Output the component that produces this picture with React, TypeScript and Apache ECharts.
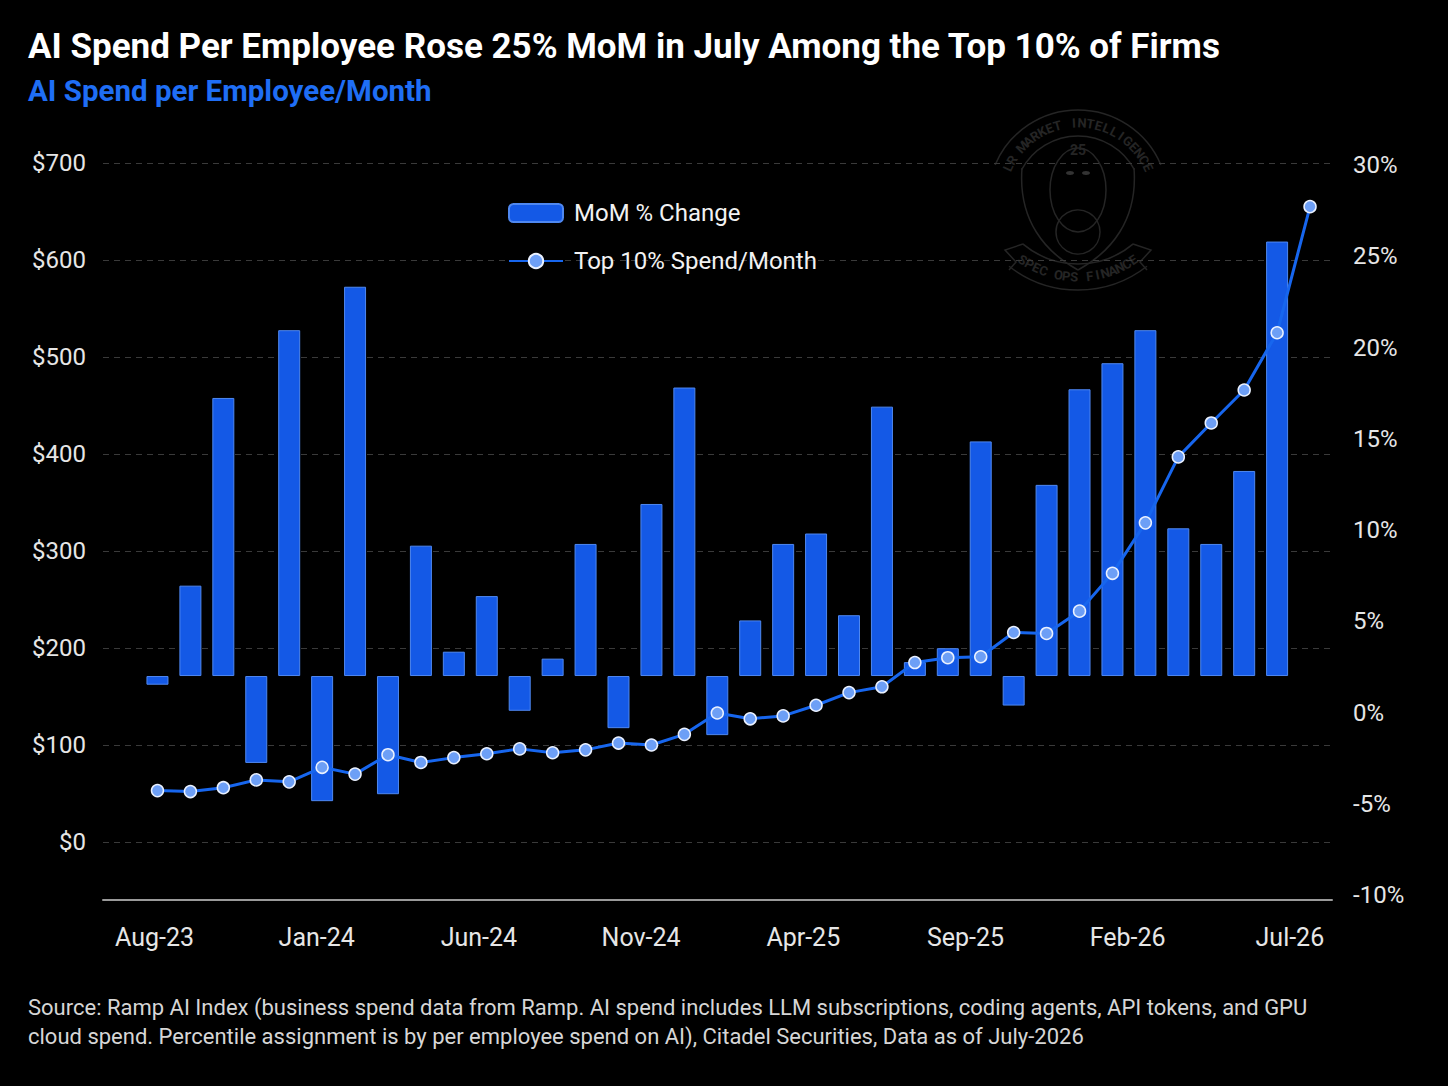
import React, { useEffect, useRef } from "react";
import * as echarts from "echarts";

const months = [
  "Aug-23", "Sep-23", "Oct-23", "Nov-23", "Dec-23", "Jan-24", "Feb-24", "Mar-24", "Apr-24", "May-24", "Jun-24", "Jul-24",
  "Aug-24", "Sep-24", "Oct-24", "Nov-24", "Dec-24", "Jan-25", "Feb-25", "Mar-25", "Apr-25", "May-25", "Jun-25", "Jul-25",
  "Aug-25", "Sep-25", "Oct-25", "Nov-25", "Dec-25", "Jan-26", "Feb-26", "Mar-26", "Apr-26", "May-26", "Jun-26", "Jul-26",
];

// MoM % change (bars stop one month before the line)
const momChange = [
  -0.5, 5.2, 16.0, -5.0, 19.9, -7.2, 22.4, -6.8, 7.5, 1.4, 4.6, -2.0,
  1.0, 7.6, -3.0, 9.9, 16.6, -3.4, 3.2, 7.6, 8.2, 3.5, 15.5, 0.8,
  1.6, 13.5, -1.7, 11.0, 16.5, 18.0, 19.9, 8.5, 7.6, 11.8, 25.0, null,
];

// top 10% spend per employee per month, $
const topSpend = [
  53, 52, 56, 64, 62, 77, 70, 90, 82, 87, 91, 96,
  92, 95, 102, 100, 111, 133, 127, 130, 141, 154, 160, 185,
  190, 191, 216, 215, 238, 277, 329, 397, 432, 466, 525, 655,
];

const dollarTicks = { min: 0, max: 700, interval: 100 };
const pctTicks = { min: -10, max: 30, interval: 5 };

const FONT = "Roboto";
const wmColor = "#252525";

const deg = (d: number) => (d * Math.PI) / 180;

// letters placed round an arc for the faint badge
function arcText(text: string, cx: number, cy: number, r: number, a0: number, a1: number, top: boolean, size: number) {
  const n = text.length;
  return text.split("").map((ch, i) => {
    const a = deg(a0 + ((a1 - a0) * i) / (n - 1));
    return {
      type: "text",
      x: cx + r * Math.cos(a),
      y: cy - r * Math.sin(a),
      rotation: top ? a - Math.PI / 2 : a + Math.PI / 2,
      style: {
        text: ch,
        fill: wmColor,
        font: `bold ${size}px ${FONT}`,
        align: "center",
        verticalAlign: "middle",
      },
    };
  });
}

function badge() {
  const line = { stroke: wmColor, lineWidth: 1.5, fill: null };
  return {
    type: "group",
    z: -1,
    children: [
      { type: "arc", shape: { cx: 1078, cy: 200, r: 90, startAngle: deg(-157), endAngle: deg(-23) }, style: line },
      { type: "arc", shape: { cx: 1078, cy: 200, r: 64, startAngle: deg(-152), endAngle: deg(-28) }, style: line },
      { type: "bezierCurve", shape: { x1: 1022, y1: 168, cpx1: 1018, cpy1: 220, cpx2: 1045, cpy2: 252, x2: 1078, y2: 270 }, style: line },
      { type: "bezierCurve", shape: { x1: 1134, y1: 168, cpx1: 1138, cpy1: 220, cpx2: 1111, cpy2: 252, x2: 1078, y2: 270 }, style: line },
      { type: "arc", shape: { cx: 1078, cy: 178, r: 86, startAngle: deg(50), endAngle: deg(130) }, style: line },
      { type: "arc", shape: { cx: 1078, cy: 178, r: 112, startAngle: deg(52), endAngle: deg(128) }, style: line },
      { type: "polyline", shape: { points: [[1023, 244], [1005, 250], [1016, 262], [1009, 270]] }, style: line },
      { type: "polyline", shape: { points: [[1133, 244], [1151, 250], [1140, 262], [1147, 270]] }, style: line },
      { type: "ellipse", shape: { cx: 1078, cy: 190, rx: 28, ry: 42 }, style: line },
      { type: "circle", shape: { cx: 1078, cy: 232, r: 22 }, style: line },
      { type: "ellipse", shape: { cx: 1070, cy: 173, rx: 4, ry: 2 }, style: { fill: "#333333" } },
      { type: "ellipse", shape: { cx: 1086, cy: 173, rx: 4, ry: 2 }, style: { fill: "#333333" } },
      {
        type: "text",
        x: 1078,
        y: 150,
        style: { text: "25", fill: wmColor, font: `bold 14px ${FONT}`, align: "center", verticalAlign: "middle" },
      },
      ...arcText("LR MARKET INTELLIGENCE", 1078, 200, 77, 155, 25, true, 13),
      ...arcText("SPEC OPS FINANCE", 1078, 178, 99, -124, -56, false, 13),
    ],
  };
}

const SpendChart = () => {
  const chartRef = useRef<HTMLDivElement>(null);

  useEffect(() => {
    document.body.style.margin = "0";
    document.body.style.background = "#000";
    const chart = echarts.init(chartRef.current as HTMLDivElement, null, { renderer: "svg" });

    const labelColor = "#e6e6e6";

    const option = {
      animation: false,
      backgroundColor: "#000",
      textStyle: { fontFamily: FONT },
      title: [
        {
          text: "AI Spend Per Employee Rose 25% MoM in July Among the Top 10% of Firms",
          left: 28,
          top: 29,
          padding: 0,
          textStyle: { color: "#ffffff", fontSize: 35, fontWeight: "bold", fontFamily: FONT },
        },
        {
          text: "AI Spend per Employee/Month",
          left: 28,
          top: 76,
          padding: 0,
          textStyle: { color: "#1f6ef5", fontSize: 29.5, fontWeight: "bold", fontFamily: FONT },
        },
        {
          text:
            "Source: Ramp AI Index (business spend data from Ramp. AI spend includes LLM subscriptions, coding agents, API tokens, and GPU\n" +
            "cloud spend. Percentile assignment is by per employee spend on AI), Citadel Securities, Data as of July-2026",
          left: 28,
          top: 993,
          padding: 0,
          textStyle: { color: "#d6d6d6", fontSize: 22, lineHeight: 29, fontWeight: "normal", fontFamily: FONT },
        },
      ],
      legend: {
        orient: "vertical",
        left: 508,
        top: 201,
        padding: 0,
        itemWidth: 54,
        itemHeight: 18,
        itemGap: 24,
        textStyle: { color: "#f2f2f2", fontSize: 24, lineHeight: 24, padding: [0, 0, 0, 6], fontFamily: FONT },
        data: ["MoM % Change", "Top 10% Spend/Month"],
      },
      grid: [
        // data
        { left: 141, width: 1185.5, top: 163, height: 679 },
        // frame: gridlines, $ labels, base line
        { left: 103, width: 1229, top: 163, height: 679 },
        // month and % labels
        { left: 138.3, width: 1167.8, top: 165, height: 730 },
      ],
      xAxis: [
        { type: "category", gridIndex: 0, data: months, show: false },
        {
          type: "value",
          gridIndex: 1,
          min: 0,
          max: 1,
          offset: 58,
          axisLine: { show: true, onZero: false, lineStyle: { color: "#9a9a9a", width: 2 } },
          axisTick: { show: false },
          axisLabel: { show: false },
          splitLine: { show: false },
        },
        {
          type: "category",
          gridIndex: 2,
          data: months,
          axisLine: { show: false },
          axisTick: { show: false },
          splitLine: { show: false },
          axisLabel: { interval: 4, margin: 30, fontSize: 25, color: labelColor, fontFamily: FONT },
        },
      ],
      yAxis: [
        { type: "value", gridIndex: 0, ...dollarTicks, show: false },
        { type: "value", gridIndex: 0, min: -9.55, max: 29.52, show: false },
        {
          type: "value",
          gridIndex: 1,
          ...dollarTicks,
          axisLine: { show: false },
          axisTick: { show: false },
          axisLabel: {
            margin: 17,
            fontSize: 24,
            color: labelColor,
            fontFamily: FONT,
            formatter: (v: number) => "$" + v,
          },
          splitLine: { show: true, lineStyle: { color: "#3a3a3a", width: 1, type: [6, 5] } },
        },
        {
          type: "value",
          gridIndex: 2,
          position: "right",
          ...pctTicks,
          axisLine: { show: false },
          axisTick: { show: false },
          splitLine: { show: false },
          axisLabel: {
            margin: 47,
            fontSize: 24,
            color: labelColor,
            fontFamily: FONT,
            formatter: (v: number) => v + "%",
          },
        },
      ],
      graphic: [badge()],
      series: [
        {
          name: "MoM % Change",
          type: "bar",
          xAxisIndex: 0,
          yAxisIndex: 1,
          data: momChange,
          barWidth: 22,
          itemStyle: { color: "#1459e6", borderColor: "#4f88f0", borderWidth: 1 },
          z: 2,
        },
        {
          name: "Top 10% Spend/Month",
          type: "line",
          xAxisIndex: 0,
          yAxisIndex: 0,
          data: topSpend,
          symbol: "circle",
          symbolSize: 12,
          lineStyle: { color: "#1766ee", width: 3 },
          itemStyle: { color: "#6d9ff6", borderColor: "#eaf1ff", borderWidth: 1.5 },
          z: 3,
        },
      ],
    };

    chart.setOption(option as any);
    return () => {
      chart.dispose();
    };
  }, []);

  return <div ref={chartRef} style={{ width: "1448px", height: "1086px" }} />;
};

export default function App() {
  return <SpendChart />;
}
